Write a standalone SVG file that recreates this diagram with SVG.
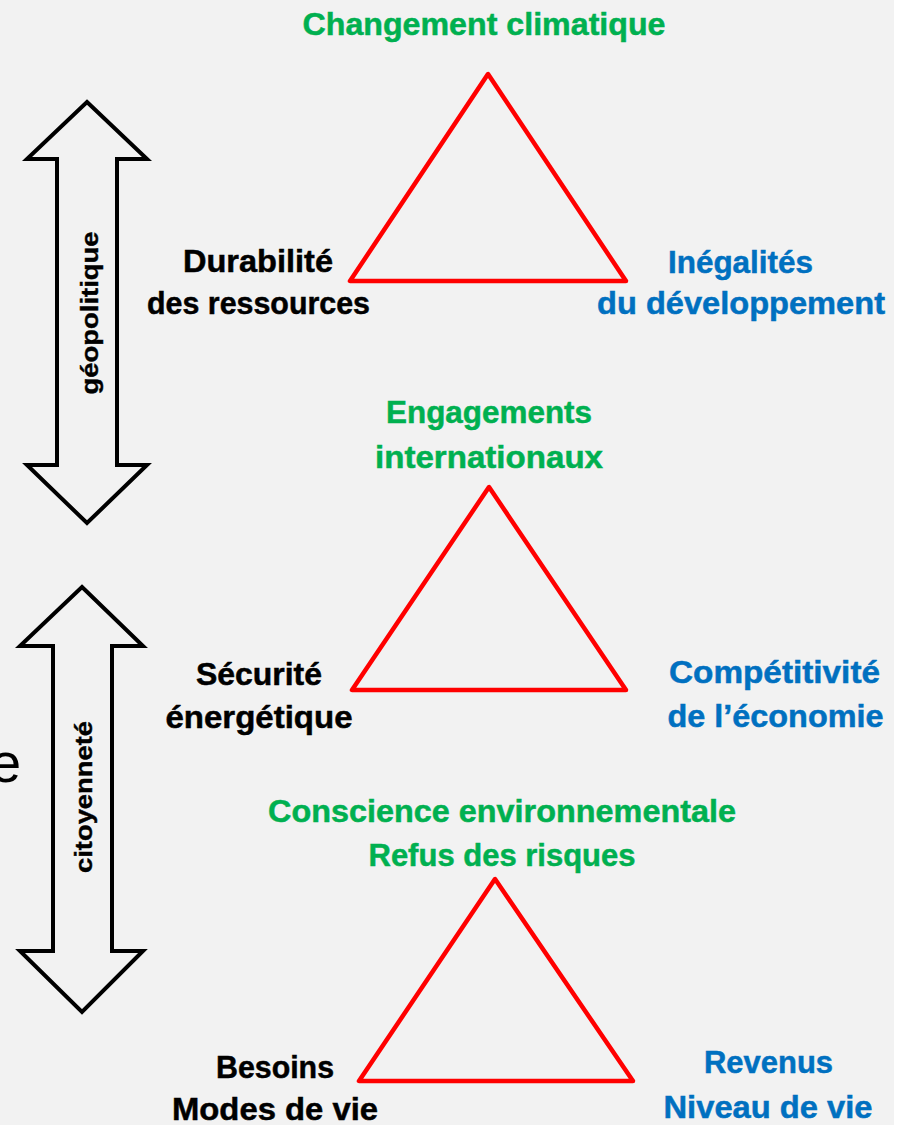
<svg xmlns="http://www.w3.org/2000/svg" width="908" height="1125" viewBox="0 0 908 1125">
  <style>
    .t { font-family: "Liberation Sans", Arial, sans-serif; font-weight: bold; font-size: 32px; text-anchor: middle; stroke-width: 0.5; }
    .green { fill: #00b050; stroke: #00b050; }
    .blue { fill: #0070c0; stroke: #0070c0; }
    .black { fill: #000000; stroke: #000000; }
    .tri { fill: none; stroke: #ff0000; stroke-width: 4.5; stroke-linejoin: round; }
    .arrow { fill: #f2f2f2; stroke: #000000; stroke-width: 4; stroke-linejoin: miter; }
    .vlabel { font-family: "Liberation Sans", Arial, sans-serif; font-weight: bold; font-size: 24px; text-anchor: middle; fill: #000000; stroke: #000000; stroke-width: 0.4; }
  </style>

  <!-- page background -->
  <rect x="0" y="0" width="908" height="1125" fill="#ffffff"/>
  <rect x="0" y="0" width="894" height="1125" fill="#f2f2f2"/>

  <!-- partial letter at the left border -->
  <text x="-10" y="782" font-family="Liberation Sans, Arial, sans-serif" font-size="56" fill="#000000">e</text>

  <!-- double arrows -->
  <g id="arrows">
    <g id="arrow-geopolitique">
      <polygon class="arrow" points="87,102 147,159 117,159 117,465 147,465 87,523 27,465 57,465 57,159 27,159"/>
      <text class="vlabel" transform="translate(98,313) rotate(-90)" x="0" y="0" textLength="163" lengthAdjust="spacingAndGlyphs">géopolitique</text>
    </g>
    <g id="arrow-citoyennete">
      <polygon class="arrow" points="82,587 143,646 112,646 112,951 143,951 82,1012 20,951 53,951 53,646 20,646"/>
      <text class="vlabel" transform="translate(92,797) rotate(-90)" x="0" y="0" textLength="152" lengthAdjust="spacingAndGlyphs">citoyenneté</text>
    </g>
  </g>

  <!-- triangle 1 -->
  <g id="tri-climat">
    <polygon class="tri" points="488,74 350,281 626,281"/>
    <text class="t green" x="484" y="35" textLength="363" lengthAdjust="spacingAndGlyphs">Changement climatique</text>
    <text class="t black" x="258" y="272" textLength="150" lengthAdjust="spacingAndGlyphs">Durabilité</text>
    <text class="t black" x="258.5" y="314" textLength="223" lengthAdjust="spacingAndGlyphs">des ressources</text>
    <text class="t blue" x="740.5" y="273" textLength="145" lengthAdjust="spacingAndGlyphs">Inégalités</text>
    <text class="t blue" x="741" y="314" textLength="288" lengthAdjust="spacingAndGlyphs">du développement</text>
  </g>

  <!-- triangle 2 -->
  <g id="tri-engagements">
    <polygon class="tri" points="489,487 352,690 626,690"/>
    <text class="t green" x="489" y="423" textLength="206" lengthAdjust="spacingAndGlyphs">Engagements</text>
    <text class="t green" x="489" y="468" textLength="228" lengthAdjust="spacingAndGlyphs">internationaux</text>
    <text class="t black" x="259" y="685" textLength="126" lengthAdjust="spacingAndGlyphs">Sécurité</text>
    <text class="t black" x="259" y="728" textLength="187" lengthAdjust="spacingAndGlyphs">énergétique</text>
    <text class="t blue" x="774.5" y="683" textLength="211" lengthAdjust="spacingAndGlyphs">Compétitivité</text>
    <text class="t blue" x="775.5" y="727" textLength="216" lengthAdjust="spacingAndGlyphs">de l’économie</text>
  </g>

  <!-- triangle 3 -->
  <g id="tri-conscience">
    <polygon class="tri" points="495,879 359,1081 633,1081"/>
    <text class="t green" x="502" y="822" textLength="468" lengthAdjust="spacingAndGlyphs">Conscience environnementale</text>
    <text class="t green" x="502" y="866" textLength="267" lengthAdjust="spacingAndGlyphs">Refus des risques</text>
    <text class="t black" x="275" y="1078" textLength="118" lengthAdjust="spacingAndGlyphs">Besoins</text>
    <text class="t black" x="275" y="1120" textLength="206" lengthAdjust="spacingAndGlyphs">Modes de vie</text>
    <text class="t blue" x="768.5" y="1073" textLength="129" lengthAdjust="spacingAndGlyphs">Revenus</text>
    <text class="t blue" x="768" y="1118" textLength="209" lengthAdjust="spacingAndGlyphs">Niveau de vie</text>
  </g>
</svg>
